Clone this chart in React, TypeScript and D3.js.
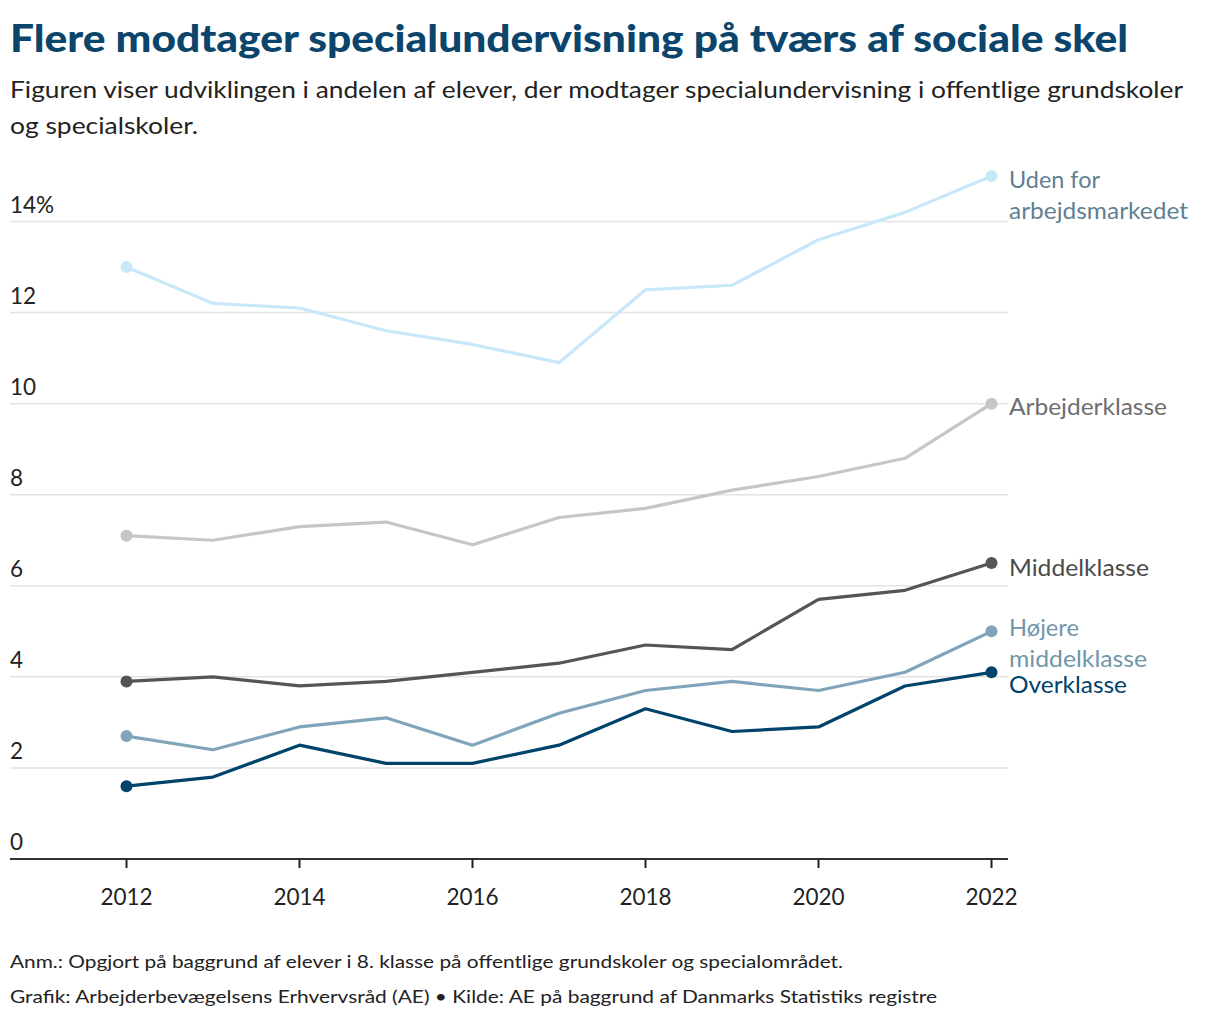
import React from "react";
import * as d3 from "d3";

const years = [2012, 2013, 2014, 2015, 2016, 2017, 2018, 2019, 2020, 2021, 2022];
const udenFor = [13.0, 12.2, 12.1, 11.6, 11.3, 10.9, 12.5, 12.6, 13.6, 14.2, 15.0];
const arbejderklasse = [7.1, 7.0, 7.3, 7.4, 6.9, 7.5, 7.7, 8.1, 8.4, 8.8, 10.0];
const middelklasse = [3.9, 4.0, 3.8, 3.9, 4.1, 4.3, 4.7, 4.6, 5.7, 5.9, 6.5];
const hojereMiddelklasse = [2.7, 2.4, 2.9, 3.1, 2.5, 3.2, 3.7, 3.9, 3.7, 4.1, 5.0];
const overklasse = [1.6, 1.8, 2.5, 2.1, 2.1, 2.5, 3.3, 2.8, 2.9, 3.8, 4.1];

const yTicks = [0, 2, 4, 6, 8, 10, 12, 14];
const xTicks = [2012, 2014, 2016, 2018, 2020, 2022];

const series = [
  { name: ["Uden for", "arbejdsmarkedet"], values: udenFor, color: "#c8e8f9", label: "#5f7f92", dy: [12, 43], w: [91, 179] },
  { name: ["Arbejderklasse"], values: arbejderklasse, color: "#c6c6c6", label: "#6e6e6e", dy: [11], w: [158] },
  { name: ["Middelklasse"], values: middelklasse, color: "#555555", label: "#4a4a4a", dy: [13], w: [140] },
  { name: ["Højere", "middelklasse"], values: hojereMiddelklasse, color: "#80a4b9", label: "#7096ab", dy: [5, 36], w: [70, 138] },
  { name: ["Overklasse"], values: overklasse, color: "#00436b", label: "#00436b", dy: [21], w: [118] },
];

const FONT = "Lato, 'Open Sans', sans-serif";

export default function App() {
  const x = d3.scaleLinear().domain([2012, 2022]).range([126.5, 991.5]);
  const y = d3.scaleLinear().domain([0, 14]).range([859, 221.5]);
  const line = d3
    .line<number>()
    .x((_, i) => x(years[i]))
    .y((d) => y(d));

  return (
    <svg
      width={1220}
      height={1020}
      style={{ position: "absolute", left: 0, top: 0, display: "block", background: "#fff" }}
      fontFamily={FONT}
    >
      <text x={10} y={52} fontSize={37} fontWeight={900} fill="#0b456c" textLength={1118} lengthAdjust="spacingAndGlyphs">
        Flere modtager specialundervisning på tværs af sociale skel
      </text>
      <text x={10} y={98} fontSize={23} fill="#222" textLength={1173} lengthAdjust="spacingAndGlyphs">
        Figuren viser udviklingen i andelen af elever, der modtager specialundervisning i offentlige grundskoler
      </text>
      <text x={10} y={134} fontSize={23} fill="#222" textLength={188} lengthAdjust="spacingAndGlyphs">
        og specialskoler.
      </text>

      {yTicks.map((t) => (
        <g key={t}>
          {t > 0 && <line x1={10} x2={1008} y1={y(t)} y2={y(t)} stroke="#e3e3e3" strokeWidth={1.5} />}
          <text x={10} y={y(t) - 9} fontSize={22.5} fill="#222">
            {t === 14 ? "14%" : t}
          </text>
        </g>
      ))}

      <line x1={10} x2={1008} y1={y(0)} y2={y(0)} stroke="#333" strokeWidth={2} />
      {xTicks.map((t) => (
        <g key={t}>
          <line x1={x(t)} x2={x(t)} y1={y(0)} y2={y(0) + 9} stroke="#222" strokeWidth={2} />
          <text x={x(t)} y={905} fontSize={22.5} fill="#222" textAnchor="middle">
            {t}
          </text>
        </g>
      ))}

      {series.map((s) => (
        <g key={s.name.join(" ")}>
          <path d={line(s.values) || ""} fill="none" stroke={s.color} strokeWidth={3.2} strokeLinejoin="round" />
          <circle cx={x(years[0])} cy={y(s.values[0])} r={6} fill={s.color} />
          <circle cx={x(years[years.length - 1])} cy={y(s.values[s.values.length - 1])} r={6} fill={s.color} />
          {s.name.map((n, i) => (
            <text
              key={n}
              x={1009}
              y={y(s.values[s.values.length - 1]) + s.dy[i]}
              fontSize={22.5}
              fill={s.label}
              textLength={s.w[i]}
              lengthAdjust="spacingAndGlyphs"
            >
              {n}
            </text>
          ))}
        </g>
      ))}

      <text x={10} y={968} fontSize={17.5} fill="#222" textLength={833} lengthAdjust="spacingAndGlyphs">
        Anm.: Opgjort på baggrund af elever i 8. klasse på offentlige grundskoler og specialområdet.
      </text>
      <text x={10} y={1003} fontSize={17.5} fill="#222" textLength={927} lengthAdjust="spacingAndGlyphs">
        Grafik: Arbejderbevægelsens Erhvervsråd (AE) • Kilde: AE på baggrund af Danmarks Statistiks registre
      </text>
    </svg>
  );
}
